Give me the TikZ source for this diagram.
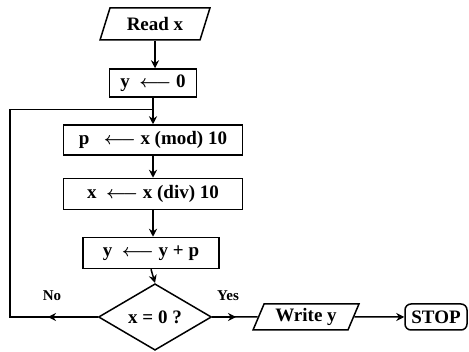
\documentclass[tikz,border=0pt]{standalone}
\usepackage{bm}
\usepackage{fontspec}
\setmainfont{Liberation Serif}
\usetikzlibrary{shapes.geometric,arrows.meta}
\tikzset{
  base/.style={draw, line width=1.5pt, font=\fontsize{19}{21}\selectfont\bfseries, inner sep=0pt},
  box/.style={base, rectangle},
  io/.style={base, trapezium, trapezium left angle=65, trapezium right angle=115, trapezium stretches=true},
  dec/.style={base, diamond},
  term/.style={base, rectangle, rounded corners=6pt},
  conn/.style={line width=1.5pt},
  arr/.style={conn, -{Stealth[length=8pt,width=8pt]}},
  lab/.style={font=\fontsize{15}{17}\selectfont\bfseries, inner sep=0pt}
}
\begin{document}
\begin{tikzpicture}[x=1pt,y=-1pt]
\useasboundingbox (0,0) rectangle (469,352);
\node[io, minimum width=110pt, minimum height=32pt] (readx) at (155,24) {Read x};
\node[box, minimum width=87pt, minimum height=28pt] (y0) at (153,83) {y\ \ $\bm{\longleftarrow}$\ 0};
\node[box, minimum width=179pt, minimum height=30pt] (p) at (153,140) {p\ \ \ $\bm{\longleftarrow}$\ x (mod)\ 10};
\node[box, minimum width=179pt, minimum height=31pt] (xd) at (153,194) {x\ \ $\bm{\longleftarrow}$\ x (div)\ 10};
\node[box, minimum width=136pt, minimum height=31pt] (ys) at (151,253) {y\ \ $\bm{\longleftarrow}$\ y + p};
\node[dec, minimum width=113pt, minimum height=64pt] (dia) at (155,317) {x\ =\ 0\ ?};
\node[io, minimum width=106pt, minimum height=26pt] (wy) at (306,317) {Write y};
\node[term, minimum width=62pt, minimum height=26pt] (stop) at (436,317) {STOP};
\node[lab] (no) at (52,296) {No};
\node[lab] (yes) at (228,296) {Yes};
\coordinate (lc) at (10,317);
\coordinate (noh) at (48,317);
\coordinate (yesh) at (236,317);
\path (y0.south) -- (y0.south |- p.north) coordinate[pos=0.45] (lj);
\draw[arr] (readx.south) -- (readx.south |- y0.north);
\draw[arr] (y0.south) -- (y0.south |- p.north);
\draw[arr] (p.south) -- (p.south |- xd.north);
\draw[arr] (xd.south) -- (xd.south |- ys.north);
\draw[arr] (ys.south) -- (dia.north);
\draw[conn] (dia.west) -- (lc) |- (lj);
\draw[arr] (dia.west) -- (noh);
\draw[conn] (dia.east) -- (wy.west);
\draw[arr] (dia.east) -- (yesh);
\draw[arr] (wy.east) -- (stop.west);
\end{tikzpicture}
\end{document}
